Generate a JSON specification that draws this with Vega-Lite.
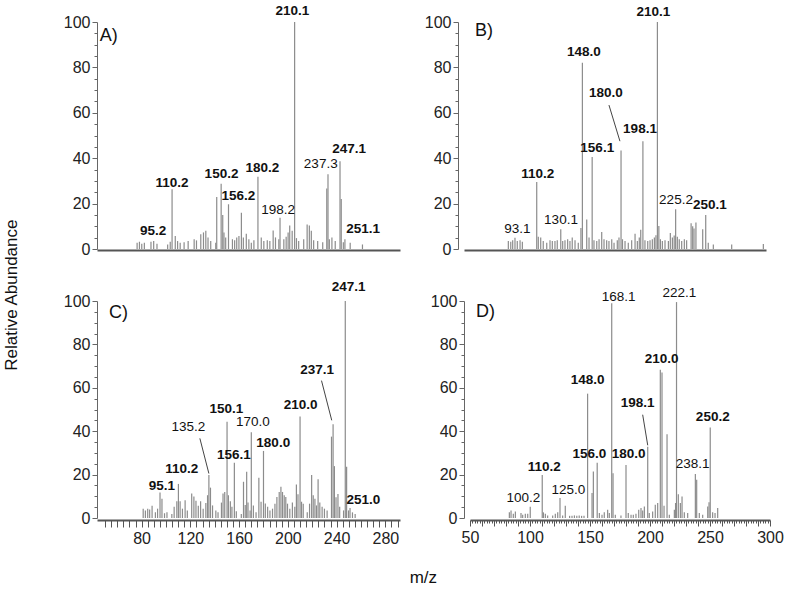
{
"$schema": "https://vega.github.io/schema/vega-lite/v6.json",
"background": "white",
"padding": {"left": 3, "top": 4, "right": 4, "bottom": 4},
"title": {"text": "Relative Abundance", "orient": "left", "anchor": "middle", "offset": 42, "fontSize": 17, "fontWeight": "normal", "font": "Liberation Sans", "color": "#111"},
"datasets": {
"A": [{"mz":81.7,"i":2.8},{"mz":83.6,"i":3.2},{"mz":85.5,"i":2.3},{"mz":87.6,"i":2.8},{"mz":93,"i":3.2},{"mz":95.2,"i":3.5},{"mz":97.9,"i":2.3},{"mz":106.6,"i":2},{"mz":108.7,"i":3.2},{"mz":110.2,"i":26.3},{"mz":112.8,"i":5.7},{"mz":114.7,"i":3.5},{"mz":116.8,"i":2.8},{"mz":120,"i":3},{"mz":123.3,"i":3.5},{"mz":128.2,"i":4.3},{"mz":130.1,"i":3.8},{"mz":133.6,"i":6.5},{"mz":135.8,"i":7.3},{"mz":137.7,"i":8},{"mz":139.5,"i":5.1},{"mz":141.7,"i":3.5},{"mz":145.8,"i":2.8},{"mz":146.6,"i":22.9},{"mz":150.2,"i":28.7},{"mz":151.5,"i":15},{"mz":152.5,"i":7.3},{"mz":153.9,"i":5.1},{"mz":156.2,"i":19.7},{"mz":159.4,"i":4.3},{"mz":161.2,"i":3.8},{"mz":162.9,"i":5.1},{"mz":164.7,"i":5.7},{"mz":166.7,"i":16},{"mz":168.3,"i":5.1},{"mz":170.7,"i":6.7},{"mz":172.8,"i":4.3},{"mz":174.8,"i":2.8},{"mz":176.9,"i":3.8},{"mz":180.2,"i":31.8},{"mz":182.9,"i":5.1},{"mz":185,"i":3.5},{"mz":187.8,"i":3.8},{"mz":189.9,"i":3.5},{"mz":192.6,"i":8.2},{"mz":194.5,"i":5.1},{"mz":197.2,"i":4.3},{"mz":198.2,"i":13.8},{"mz":201.3,"i":4.3},{"mz":203.2,"i":5.4},{"mz":204.8,"i":7.3},{"mz":206.1,"i":10.3},{"mz":208.1,"i":8},{"mz":210.1,"i":100},{"mz":211.6,"i":4.8},{"mz":213.4,"i":3.5},{"mz":217.5,"i":4.3},{"mz":220.3,"i":10.8},{"mz":222.1,"i":10.3},{"mz":223.7,"i":8},{"mz":225.6,"i":3.8},{"mz":228.9,"i":3.5},{"mz":233,"i":3},{"mz":236.3,"i":26.7},{"mz":237.3,"i":32.9},{"mz":238.4,"i":4.3},{"mz":240.5,"i":5.1},{"mz":243.2,"i":3.5},{"mz":247.1,"i":38.7},{"mz":248.1,"i":22},{"mz":249.8,"i":3},{"mz":251.1,"i":4.3},{"mz":255.4,"i":2.8},{"mz":265.4,"i":2}],
"B": [{"mz":86.7,"i":3.5},{"mz":88.7,"i":3.2},{"mz":90.3,"i":3.8},{"mz":92.2,"i":5},{"mz":94.1,"i":3.5},{"mz":96.4,"i":3.8},{"mz":98.3,"i":3.2},{"mz":110.2,"i":29.5},{"mz":111.5,"i":5.4},{"mz":113.5,"i":5.1},{"mz":115.6,"i":3.5},{"mz":118.5,"i":2.8},{"mz":121.2,"i":3.8},{"mz":123.1,"i":3.5},{"mz":125.3,"i":3.5},{"mz":127.2,"i":3.8},{"mz":130.1,"i":8.7},{"mz":131.7,"i":3.5},{"mz":133.6,"i":3.8},{"mz":135.8,"i":4.3},{"mz":137.7,"i":3.5},{"mz":139.6,"i":5.1},{"mz":141.9,"i":3.8},{"mz":144.6,"i":2.8},{"mz":146.8,"i":9.3},{"mz":148.0,"i":82},{"mz":151.6,"i":13},{"mz":153.5,"i":5.1},{"mz":156.1,"i":40.5},{"mz":157.6,"i":3.8},{"mz":159.9,"i":3.5},{"mz":161.8,"i":4.3},{"mz":164,"i":7.5},{"mz":165.9,"i":4.3},{"mz":168.1,"i":3.8},{"mz":170,"i":3.5},{"mz":172.3,"i":4.3},{"mz":174.2,"i":2.8},{"mz":176.9,"i":3.8},{"mz":178.3,"i":5.1},{"mz":180,"i":43.4},{"mz":181.2,"i":4.3},{"mz":183.3,"i":3.5},{"mz":186,"i":2.8},{"mz":188.8,"i":3.8},{"mz":191.6,"i":6.7},{"mz":193.5,"i":3.5},{"mz":195.1,"i":5.1},{"mz":196.3,"i":8.5},{"mz":198.1,"i":47.5},{"mz":199.8,"i":3.8},{"mz":202.1,"i":3.5},{"mz":204,"i":3.8},{"mz":205.9,"i":4.3},{"mz":207.6,"i":5.1},{"mz":208.9,"i":6.1},{"mz":210.1,"i":100},{"mz":211.3,"i":10.1},{"mz":212.6,"i":4.3},{"mz":214.2,"i":3.5},{"mz":216.4,"i":3.8},{"mz":219.2,"i":3.5},{"mz":220.8,"i":7},{"mz":222.5,"i":5.1},{"mz":224,"i":6},{"mz":225.2,"i":17.5},{"mz":226.6,"i":5.4},{"mz":228.2,"i":4.3},{"mz":230.2,"i":3.5},{"mz":232.4,"i":4.3},{"mz":234.3,"i":3.8},{"mz":238,"i":11.3},{"mz":239.3,"i":10},{"mz":240.4,"i":9},{"mz":242,"i":11.7},{"mz":247.6,"i":8.7},{"mz":250.1,"i":15},{"mz":252.2,"i":2.8},{"mz":256.4,"i":2},{"mz":271.6,"i":2},{"mz":297.8,"i":2.2}],
"C": [{"mz":81.3,"i":4.3},{"mz":83.1,"i":3.5},{"mz":85,"i":4.3},{"mz":86.6,"i":3.9},{"mz":88.6,"i":5.6},{"mz":91.3,"i":2.6},{"mz":93.1,"i":4.3},{"mz":95.1,"i":11.7},{"mz":96.7,"i":8.9},{"mz":98.8,"i":2.2},{"mz":100.8,"i":2.6},{"mz":104.8,"i":1.8},{"mz":106.7,"i":5.2},{"mz":108.9,"i":7.7},{"mz":110.2,"i":15.7},{"mz":111.6,"i":7.7},{"mz":113.5,"i":4.3},{"mz":115.7,"i":8.2},{"mz":117.5,"i":3.5},{"mz":121.1,"i":11.3},{"mz":122.9,"i":9.9},{"mz":124.6,"i":8},{"mz":126.5,"i":5.6},{"mz":128.4,"i":7.7},{"mz":130.5,"i":4.3},{"mz":132.7,"i":6.9},{"mz":134.1,"i":10.5},{"mz":135.2,"i":19.8},{"mz":136.5,"i":14},{"mz":138.2,"i":5.8},{"mz":140.9,"i":3.5},{"mz":142.7,"i":2.6},{"mz":145.5,"i":7.1},{"mz":146.8,"i":11.3},{"mz":148.2,"i":12},{"mz":150.1,"i":44.4},{"mz":151.2,"i":10.5},{"mz":152.8,"i":7.7},{"mz":154.1,"i":5.2},{"mz":156.1,"i":25.5},{"mz":157.7,"i":3.1},{"mz":161.8,"i":1.8},{"mz":163.6,"i":16.7},{"mz":165,"i":6},{"mz":166.2,"i":21.3},{"mz":167.3,"i":7.1},{"mz":169,"i":3.5},{"mz":170,"i":39.5},{"mz":171.7,"i":5.8},{"mz":173.9,"i":2.6},{"mz":176.2,"i":18.5},{"mz":178,"i":7.5},{"mz":180,"i":30.9},{"mz":181.5,"i":6.7},{"mz":183.4,"i":5.2},{"mz":185.3,"i":3.5},{"mz":187.4,"i":4.3},{"mz":189.4,"i":6.6},{"mz":191,"i":9.7},{"mz":192.9,"i":12},{"mz":194.3,"i":14.4},{"mz":195.6,"i":12},{"mz":197,"i":10.5},{"mz":198.3,"i":9.7},{"mz":199.7,"i":6.6},{"mz":201.6,"i":4.3},{"mz":203.7,"i":7.1},{"mz":205.7,"i":5.2},{"mz":207,"i":15.4},{"mz":208.3,"i":11},{"mz":210,"i":46.8},{"mz":211.2,"i":7.5},{"mz":212.6,"i":6.6},{"mz":215.9,"i":2.6},{"mz":217.8,"i":6.6},{"mz":219.5,"i":19.8},{"mz":220.8,"i":10.5},{"mz":222.2,"i":8.9},{"mz":223.5,"i":5.8},{"mz":224.8,"i":17.9},{"mz":226.2,"i":7.1},{"mz":228.1,"i":5.2},{"mz":230,"i":4.3},{"mz":232.2,"i":3.5},{"mz":235.8,"i":37.5},{"mz":237.1,"i":43.2},{"mz":238.2,"i":23.9},{"mz":239.5,"i":9.6},{"mz":241.1,"i":11.1},{"mz":242.5,"i":5.2},{"mz":245.7,"i":3.5},{"mz":247.1,"i":100},{"mz":248.2,"i":23.6},{"mz":249.8,"i":3.5},{"mz":251,"i":4.6},{"mz":253,"i":2.6},{"mz":255.2,"i":1.8}],
"D": [{"mz":82.8,"i":2.6},{"mz":84.2,"i":3.5},{"mz":86.1,"i":2},{"mz":87.8,"i":3},{"mz":92.5,"i":2.3},{"mz":93.9,"i":1.5},{"mz":96.1,"i":2},{"mz":98.1,"i":2},{"mz":100.2,"i":5.2},{"mz":110.2,"i":19.8},{"mz":111.2,"i":2.6},{"mz":112.8,"i":2},{"mz":114.7,"i":1.2},{"mz":118.9,"i":1.2},{"mz":121.1,"i":2},{"mz":123.1,"i":2.6},{"mz":125,"i":9.2},{"mz":127.2,"i":1.2},{"mz":129.4,"i":5.6},{"mz":133,"i":1},{"mz":135,"i":1},{"mz":137,"i":1.2},{"mz":139,"i":1},{"mz":141,"i":1.2},{"mz":143,"i":1},{"mz":145,"i":1},{"mz":148,"i":57.3},{"mz":151.7,"i":11.5},{"mz":152.8,"i":21.4},{"mz":156,"i":25.5},{"mz":157.8,"i":2.3},{"mz":160,"i":1.5},{"mz":161.9,"i":2.6},{"mz":164.7,"i":3.8},{"mz":166.1,"i":2.3},{"mz":168.1,"i":99},{"mz":169.2,"i":20.6},{"mz":171.1,"i":1.5},{"mz":175.8,"i":1.2},{"mz":180,"i":24.4},{"mz":181.9,"i":2.3},{"mz":184.2,"i":1.5},{"mz":186.1,"i":1.5},{"mz":188.3,"i":2},{"mz":190.6,"i":3.8},{"mz":192.5,"i":4.6},{"mz":193.9,"i":3.5},{"mz":195.3,"i":5.3},{"mz":198.1,"i":32.8},{"mz":199.4,"i":2.3},{"mz":202.2,"i":3},{"mz":204.4,"i":6.1},{"mz":206.4,"i":6.9},{"mz":208.6,"i":68.3},{"mz":210,"i":67},{"mz":211.7,"i":5.6},{"mz":214.2,"i":38.6},{"mz":216.1,"i":1.5},{"mz":220.3,"i":3.8},{"mz":221.3,"i":6.9},{"mz":222.1,"i":99.5},{"mz":223.6,"i":11},{"mz":225.3,"i":6.9},{"mz":226.7,"i":9.9},{"mz":228.6,"i":2.6},{"mz":231.4,"i":2.3},{"mz":237.8,"i":20.3},{"mz":238.9,"i":17.6},{"mz":241.1,"i":2.3},{"mz":243.9,"i":1.5},{"mz":248.1,"i":5.3},{"mz":249.2,"i":7.3},{"mz":250.2,"i":41.7},{"mz":252.2,"i":2.6},{"mz":254.2,"i":2.3},{"mz":256.4,"i":4.6}],
"labels": [
{"p":"A","x":94.7,"y":7.9,"t":"95.2","k":"b"},{"p":"A","x":110.2,"y":29.2,"t":"110.2","k":"b"},{"p":"A","x":150.5,"y":33.1,"t":"150.2","k":"b"},{"p":"A","x":164.3,"y":23.3,"t":"156.2","k":"b"},{"p":"A","x":183.9,"y":35.8,"t":"180.2","k":"b"},{"p":"A","x":196.6,"y":17.2,"t":"198.2","k":"r"},{"p":"A","x":208.3,"y":104.7,"t":"210.1","k":"b"},{"p":"A","x":231.4,"y":37.3,"t":"237.3","k":"r"},{"p":"A","x":254.5,"y":43.9,"t":"247.1","k":"b"},{"p":"A","x":265.9,"y":8.7,"t":"251.1","k":"b"},
{"p":"B","x":94.1,"y":8.7,"t":"93.1","k":"r"},{"p":"B","x":111,"y":33.1,"t":"110.2","k":"b"},{"p":"B","x":130.3,"y":12.6,"t":"130.1","k":"r"},{"p":"B","x":149.3,"y":86.8,"t":"148.0","k":"b"},{"p":"B","x":167.5,"y":68.8,"t":"180.0","k":"b"},{"p":"B","x":160.3,"y":44.6,"t":"156.1","k":"b"},{"p":"B","x":195.7,"y":52.7,"t":"198.1","k":"b"},{"p":"B","x":206.7,"y":104.4,"t":"210.1","k":"b"},{"p":"B","x":225.5,"y":21.4,"t":"225.2","k":"r"},{"p":"B","x":253.6,"y":19.4,"t":"250.1","k":"b"},
{"p":"C","x":96.7,"y":14.8,"t":"95.1","k":"b"},{"p":"C","x":113,"y":22.5,"t":"110.2","k":"b"},{"p":"C","x":118.3,"y":41.8,"t":"135.2","k":"r"},{"p":"C","x":149.5,"y":50.3,"t":"150.1","k":"b"},{"p":"C","x":171.2,"y":44.4,"t":"170.0","k":"r"},{"p":"C","x":155.7,"y":29,"t":"156.1","k":"b"},{"p":"C","x":188,"y":34.4,"t":"180.0","k":"b"},{"p":"C","x":210.5,"y":51.9,"t":"210.0","k":"b"},{"p":"C","x":224,"y":68.4,"t":"237.1","k":"b"},{"p":"C","x":249.8,"y":106.5,"t":"247.1","k":"b"},{"p":"C","x":262,"y":8.2,"t":"251.0","k":"b"},
{"p":"D","x":94.4,"y":9.2,"t":"100.2","k":"r"},{"p":"D","x":111.9,"y":23.7,"t":"110.2","k":"b"},{"p":"D","x":131.9,"y":13,"t":"125.0","k":"r"},{"p":"D","x":148.1,"y":63.7,"t":"148.0","k":"b"},{"p":"D","x":149.4,"y":29.5,"t":"156.0","k":"b"},{"p":"D","x":173.9,"y":101.8,"t":"168.1","k":"r"},{"p":"D","x":182.2,"y":29.5,"t":"180.0","k":"b"},{"p":"D","x":189.7,"y":53,"t":"198.1","k":"b"},{"p":"D","x":209.7,"y":73.3,"t":"210.0","k":"b"},{"p":"D","x":224.4,"y":103.8,"t":"222.1","k":"r"},{"p":"D","x":235.6,"y":24.9,"t":"238.1","k":"r"},{"p":"D","x":252.3,"y":46.6,"t":"250.2","k":"b"}
],
"leaders": [
{"p":"B","x":170,"y":63.4,"x2":179.1,"y2":47.5},
{"p":"C","x":127.8,"y":36.7,"x2":135.2,"y2":20.5},
{"p":"C","x":227.6,"y":63.3,"x2":236,"y2":45},
{"p":"D","x":193.9,"y":47.6,"x2":198.1,"y2":33.5}
],
"tags": [
{"p":"A","x":51.3,"y":93.7,"t":"A)"},
{"p":"B","x":59.1,"y":95.9,"t":"B)"},
{"p":"C","x":53.3,"y":94.4,"t":"C)"},
{"p":"D","x":55,"y":95,"t":"D)"}
]
},
"spacing": 22,
"vconcat": [
{
"spacing": 24,
"hconcat": [
{
"width": 303, "height": 227,
"layer": [
{"data": {"name": "A"}, "mark": {"type": "rule", "color": "#8c8c8c", "strokeWidth": 1.2},
 "encoding": {
  "x": {"field": "mz", "type": "quantitative", "scale": {"domain": [49, 296], "nice": false, "zero": false}, "axis": {"labels": false, "ticks": false, "domainWidth": 2, "domainColor": "#555", "offset": 1}},
  "y": {"field": "i", "type": "quantitative", "scale": {"domain": [0, 100], "nice": false}, "axis": {"format": "d", "tickCount": 500, "values": [0,5,10,15,20,25,30,35,40,45,50,55,60,65,70,75,80,85,90,95,100], "labelExpr": "datum.value % 20 === 0 ? datum.label : ''", "tickSize": {"condition": {"test": "datum.value % 20 === 0", "value": 5}, "value": 3}, "labelPadding": 2}},
  "y2": {"datum": 0}}},
{"data": {"name": "labels"}, "transform": [{"filter": "datum.p === 'A' && datum.k === 'b'"}], "mark": {"type": "text", "fontWeight": "bold", "fontSize": 13.5, "font": "Liberation Sans", "color": "#111", "baseline": "middle", "align": "center"},
 "encoding": {"x": {"field": "x", "type": "quantitative"}, "y": {"field": "y", "type": "quantitative"}, "text": {"field": "t"}}},
{"data": {"name": "labels"}, "transform": [{"filter": "datum.p === 'A' && datum.k === 'r'"}], "mark": {"type": "text", "fontSize": 13.5, "font": "Liberation Sans", "color": "#111", "baseline": "middle", "align": "center"},
 "encoding": {"x": {"field": "x", "type": "quantitative"}, "y": {"field": "y", "type": "quantitative"}, "text": {"field": "t"}}},
{"data": {"name": "tags"}, "transform": [{"filter": "datum.p === 'A'"}], "mark": {"type": "text", "fontSize": 18, "font": "Liberation Sans", "color": "#111", "baseline": "middle", "align": "left"},
 "encoding": {"x": {"field": "x", "type": "quantitative"}, "y": {"field": "y", "type": "quantitative"}, "text": {"field": "t"}}}
]
},
{
"width": 302, "height": 227,
"layer": [
{"data": {"name": "B"}, "mark": {"type": "rule", "color": "#8c8c8c", "strokeWidth": 1.2},
 "encoding": {
  "x": {"field": "mz", "type": "quantitative", "scale": {"domain": [50, 300], "nice": false, "zero": false}, "axis": {"labels": false, "ticks": false, "domainWidth": 2, "domainColor": "#555", "offset": 1}},
  "y": {"field": "i", "type": "quantitative", "scale": {"domain": [0, 100], "nice": false}, "axis": {"format": "d", "tickCount": 500, "offset": 6, "values": [0,5,10,15,20,25,30,35,40,45,50,55,60,65,70,75,80,85,90,95,100], "labelExpr": "datum.value % 20 === 0 ? datum.label : ''", "tickSize": {"condition": {"test": "datum.value % 20 === 0", "value": 5}, "value": 3}, "labelPadding": 2}},
  "y2": {"datum": 0}}},
{"data": {"name": "leaders"}, "transform": [{"filter": "datum.p === 'B'"}], "mark": {"type": "rule", "color": "#444", "strokeWidth": 1},
 "encoding": {"x": {"field": "x", "type": "quantitative"}, "y": {"field": "y", "type": "quantitative"}, "x2": {"field": "x2"}, "y2": {"field": "y2"}}},
{"data": {"name": "labels"}, "transform": [{"filter": "datum.p === 'B' && datum.k === 'b'"}], "mark": {"type": "text", "fontWeight": "bold", "fontSize": 13.5, "font": "Liberation Sans", "color": "#111", "baseline": "middle", "align": "center"},
 "encoding": {"x": {"field": "x", "type": "quantitative"}, "y": {"field": "y", "type": "quantitative"}, "text": {"field": "t"}}},
{"data": {"name": "labels"}, "transform": [{"filter": "datum.p === 'B' && datum.k === 'r'"}], "mark": {"type": "text", "fontSize": 13.5, "font": "Liberation Sans", "color": "#111", "baseline": "middle", "align": "center"},
 "encoding": {"x": {"field": "x", "type": "quantitative"}, "y": {"field": "y", "type": "quantitative"}, "text": {"field": "t"}}},
{"data": {"name": "tags"}, "transform": [{"filter": "datum.p === 'B'"}], "mark": {"type": "text", "fontSize": 18, "font": "Liberation Sans", "color": "#111", "baseline": "middle", "align": "left"},
 "encoding": {"x": {"field": "x", "type": "quantitative"}, "y": {"field": "y", "type": "quantitative"}, "text": {"field": "t"}}}
]
}
]
},
{
"spacing": 30,
"title": {"text": "m/z", "orient": "bottom", "anchor": "middle", "offset": 24, "fontSize": 17, "fontWeight": "normal", "font": "Liberation Sans", "color": "#111"},
"hconcat": [
{
"width": 303, "height": 217,
"layer": [
{"data": {"name": "C"}, "mark": {"type": "rule", "color": "#8c8c8c", "strokeWidth": 1.2},
 "encoding": {
  "x": {"field": "mz", "type": "quantitative", "scale": {"domain": [43.4, 292], "nice": false, "zero": false}, "axis": {"format": "d", "tickCount": 500, "offset": 2, "domainWidth": 2, "domainColor": "#555", "tickColor": "#555", "tickSize": 7, "labelPadding": 3, "labelFlush": false, "values": [50,55,60,65,70,75,80,85,90,95,100,105,110,115,120,125,130,135,140,145,150,155,160,165,170,175,180,185,190,195,200,205,210,215,220,225,230,235,240,245,250,255,260,265,270,275,280,285,290], "labelExpr": "datum.value % 40 === 0 ? datum.label : ''"}},
  "y": {"field": "i", "type": "quantitative", "scale": {"domain": [0, 100], "nice": false}, "axis": {"format": "d", "tickCount": 500, "values": [0,5,10,15,20,25,30,35,40,45,50,55,60,65,70,75,80,85,90,95,100], "labelExpr": "datum.value % 20 === 0 ? datum.label : ''", "tickSize": {"condition": {"test": "datum.value % 20 === 0", "value": 5}, "value": 3}, "labelPadding": 2}},
  "y2": {"datum": 0}}},
{"data": {"name": "leaders"}, "transform": [{"filter": "datum.p === 'C'"}], "mark": {"type": "rule", "color": "#444", "strokeWidth": 1},
 "encoding": {"x": {"field": "x", "type": "quantitative"}, "y": {"field": "y", "type": "quantitative"}, "x2": {"field": "x2"}, "y2": {"field": "y2"}}},
{"data": {"name": "labels"}, "transform": [{"filter": "datum.p === 'C' && datum.k === 'b'"}], "mark": {"type": "text", "fontWeight": "bold", "fontSize": 13.5, "font": "Liberation Sans", "color": "#111", "baseline": "middle", "align": "center"},
 "encoding": {"x": {"field": "x", "type": "quantitative"}, "y": {"field": "y", "type": "quantitative"}, "text": {"field": "t"}}},
{"data": {"name": "labels"}, "transform": [{"filter": "datum.p === 'C' && datum.k === 'r'"}], "mark": {"type": "text", "fontSize": 13.5, "font": "Liberation Sans", "color": "#111", "baseline": "middle", "align": "center"},
 "encoding": {"x": {"field": "x", "type": "quantitative"}, "y": {"field": "y", "type": "quantitative"}, "text": {"field": "t"}}},
{"data": {"name": "tags"}, "transform": [{"filter": "datum.p === 'C'"}], "mark": {"type": "text", "fontSize": 18, "font": "Liberation Sans", "color": "#111", "baseline": "middle", "align": "left"},
 "encoding": {"x": {"field": "x", "type": "quantitative"}, "y": {"field": "y", "type": "quantitative"}, "text": {"field": "t"}}}
]
},
{
"width": 300, "height": 217,
"layer": [
{"data": {"name": "D"}, "mark": {"type": "rule", "color": "#8c8c8c", "strokeWidth": 1.2},
 "encoding": {
  "x": {"field": "mz", "type": "quantitative", "scale": {"domain": [50, 300], "nice": false, "zero": false}, "axis": {"format": "d", "tickCount": 500, "offset": 2, "domainWidth": 2, "domainColor": "#555", "tickColor": "#555", "labelPadding": 3, "labelFlush": false, "tickSize": {"condition": {"test": "datum.value % 10 === 0", "value": 6}, "value": 3}, "values": [50,52,54,56,58,60,62,64,66,68,70,72,74,76,78,80,82,84,86,88,90,92,94,96,98,100,102,104,106,108,110,112,114,116,118,120,122,124,126,128,130,132,134,136,138,140,142,144,146,148,150,152,154,156,158,160,162,164,166,168,170,172,174,176,178,180,182,184,186,188,190,192,194,196,198,200,202,204,206,208,210,212,214,216,218,220,222,224,226,228,230,232,234,236,238,240,242,244,246,248,250,252,254,256,258,260,262,264,266,268,270,272,274,276,278,280,282,284,286,288,290,292,294,296,298,300], "labelExpr": "datum.value % 50 === 0 ? datum.label : ''"}},
  "y": {"field": "i", "type": "quantitative", "scale": {"domain": [0, 100], "nice": false}, "axis": {"format": "d", "tickCount": 500, "offset": 6, "values": [0,5,10,15,20,25,30,35,40,45,50,55,60,65,70,75,80,85,90,95,100], "labelExpr": "datum.value % 20 === 0 ? datum.label : ''", "tickSize": {"condition": {"test": "datum.value % 20 === 0", "value": 5}, "value": 3}, "labelPadding": 2}},
  "y2": {"datum": 0}}},
{"data": {"name": "leaders"}, "transform": [{"filter": "datum.p === 'D'"}], "mark": {"type": "rule", "color": "#444", "strokeWidth": 1},
 "encoding": {"x": {"field": "x", "type": "quantitative"}, "y": {"field": "y", "type": "quantitative"}, "x2": {"field": "x2"}, "y2": {"field": "y2"}}},
{"data": {"name": "labels"}, "transform": [{"filter": "datum.p === 'D' && datum.k === 'b'"}], "mark": {"type": "text", "fontWeight": "bold", "fontSize": 13.5, "font": "Liberation Sans", "color": "#111", "baseline": "middle", "align": "center"},
 "encoding": {"x": {"field": "x", "type": "quantitative"}, "y": {"field": "y", "type": "quantitative"}, "text": {"field": "t"}}},
{"data": {"name": "labels"}, "transform": [{"filter": "datum.p === 'D' && datum.k === 'r'"}], "mark": {"type": "text", "fontSize": 13.5, "font": "Liberation Sans", "color": "#111", "baseline": "middle", "align": "center"},
 "encoding": {"x": {"field": "x", "type": "quantitative"}, "y": {"field": "y", "type": "quantitative"}, "text": {"field": "t"}}},
{"data": {"name": "tags"}, "transform": [{"filter": "datum.p === 'D'"}], "mark": {"type": "text", "fontSize": 18, "font": "Liberation Sans", "color": "#111", "baseline": "middle", "align": "left"},
 "encoding": {"x": {"field": "x", "type": "quantitative"}, "y": {"field": "y", "type": "quantitative"}, "text": {"field": "t"}}}
]
}
]
}
],
"config": {
 "view": {"stroke": null},
 "font": "Liberation Sans",
 "axis": {"grid": false, "title": null, "labelFont": "Liberation Sans", "labelFontSize": 16, "labelColor": "#222", "domainColor": "#666", "tickColor": "#666", "labelOverlap": false}
}
}
